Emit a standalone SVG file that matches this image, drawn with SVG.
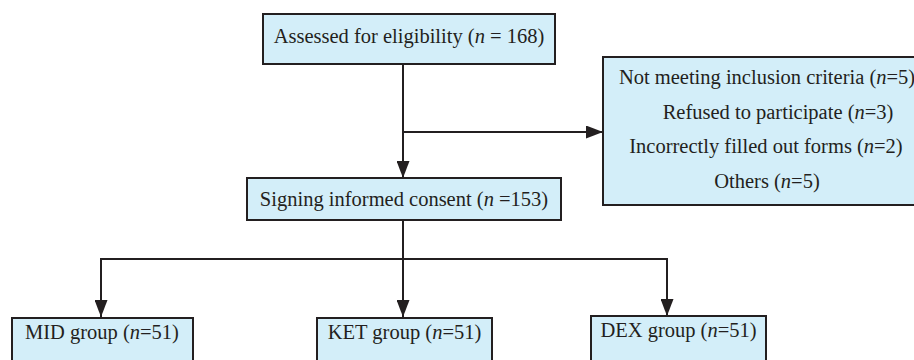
<svg xmlns="http://www.w3.org/2000/svg" width="914" height="360" viewBox="0 0 914 360">
<style>
.box{fill:#d3eef9;stroke:#231f20;stroke-width:2}
.t{font-family:"Liberation Serif","Times New Roman",serif;font-size:20.5px;fill:#231f20;text-anchor:middle}
.i{font-style:italic}
.c{fill:none;stroke:#231f20;stroke-width:2}
</style>
<defs>
<marker id="ah" markerUnits="userSpaceOnUse" markerWidth="17" markerHeight="13" refX="17" refY="6.5" orient="auto">
<path d="M0,0 L17,6.5 L0,13 z" fill="#231f20"/>
</marker>
</defs>
<g id="connectors">
<path class="c" d="M403,64 V178" marker-end="url(#ah)"/>
<path class="c" d="M403,132 H603" marker-end="url(#ah)"/>
<path class="c" d="M403,220 V259"/>
<path class="c" d="M101,259 H667"/>
<path class="c" d="M101,258 V317" marker-end="url(#ah)"/>
<path class="c" d="M403,259 V317" marker-end="url(#ah)"/>
<path class="c" d="M667,258 V316" marker-end="url(#ah)"/>
</g>
<g id="assessed">
<rect class="box" x="263" y="14" width="292" height="50"/>
<text class="t" x="409" y="43">Assessed for eligibility (<tspan class="i">n</tspan> = 168)</text>
</g>
<g id="excluded">
<rect class="box" x="603" y="57" width="330" height="148"/>
<text class="t" x="767" y="84">Not meeting inclusion criteria (<tspan class="i">n</tspan>=5)</text>
<text class="t" x="778" y="119">Refused to participate (<tspan class="i">n</tspan>=3)</text>
<text class="t" x="766" y="153">Incorrectly filled out forms (<tspan class="i">n</tspan>=2)</text>
<text class="t" x="767" y="188">Others (<tspan class="i">n</tspan>=5)</text>
</g>
<g id="consent">
<rect class="box" x="247" y="178" width="314" height="42"/>
<text class="t" x="404" y="206">Signing informed consent (<tspan class="i">n</tspan> =153)</text>
</g>
<g id="mid">
<rect class="box" x="12" y="318" width="181" height="50"/>
<text class="t" x="102" y="339">MID group (<tspan class="i">n</tspan>=51)</text>
</g>
<g id="ket">
<rect class="box" x="317" y="318" width="175" height="50"/>
<text class="t" x="404.5" y="339">KET group (<tspan class="i">n</tspan>=51)</text>
</g>
<g id="dex">
<rect class="box" x="591" y="316" width="175" height="50"/>
<text class="t" x="678.5" y="337">DEX group (<tspan class="i">n</tspan>=51)</text>
</g>
</svg>
